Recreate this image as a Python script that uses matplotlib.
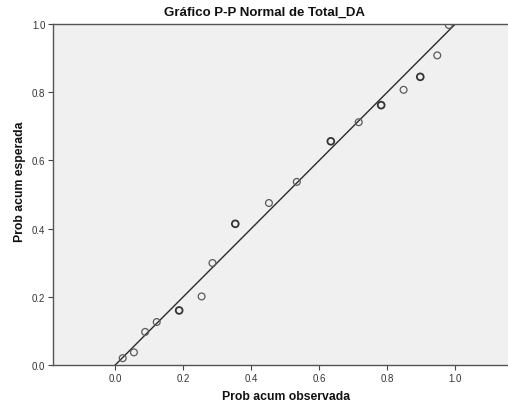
import matplotlib
matplotlib.use("Agg")
import matplotlib.pyplot as plt

plt.rcParams['font.family'] = ['Liberation Sans', 'DejaVu Sans']

# Observed vs expected cumulative probabilities for Total_DA
prob_observada = [0.022, 0.055, 0.088, 0.122, 0.188, 0.254, 0.286, 0.353,
                  0.452, 0.534, 0.634, 0.716, 0.782, 0.848, 0.897, 0.947, 0.981]
prob_esperada = [0.020, 0.037, 0.097, 0.126, 0.160, 0.201, 0.299, 0.414,
                 0.475, 0.537, 0.656, 0.712, 0.762, 0.807, 0.845, 0.908, 0.997]
# points that represent tied cases are drawn with a heavier edge
empates = [False, False, False, False, True, False, False, True,
           False, False, True, False, True, False, True, False, False]

ref_line = [0.0, 1.0]
x_ticks = [0.0, 0.2, 0.4, 0.6, 0.8, 1.0]
y_ticks = [0.0, 0.2, 0.4, 0.6, 0.8, 1.0]

W, H = 508, 406
fig = plt.figure(figsize=(W / 100, H / 100), dpi=100)
fig.patch.set_facecolor('white')
ax = fig.add_axes([53 / W, (H - 366) / H, (W - 53) / W, (366 - 25) / H])
ax.set_facecolor('#f0f0f0')

ax.plot(ref_line, ref_line, color='#2b2b2b', lw=1.0, zorder=2)

for x, y, e in zip(prob_observada, prob_esperada, empates):
    ax.scatter([x], [y], s=24, facecolors='none',
               edgecolors='#333333' if e else '#5a5a5a',
               linewidths=1.3 if e else 0.9, zorder=3)

ax.set_xlim(-0.183, 1.155)
ax.set_ylim(0.0, 1.0)
ax.set_xticks(x_ticks)
ax.set_yticks(y_ticks)
ax.set_xticklabels([f"{v:.1f}" for v in x_ticks])
ax.set_yticklabels([f"{v:.1f}" for v in y_ticks])
ax.tick_params(axis='both', direction='out', length=3.5, width=0.8,
               color='#444444', labelsize=7, labelcolor='#333333', pad=2)

for side in ['left', 'bottom', 'top']:
    ax.spines[side].set_color('#555555')
    ax.spines[side].set_linewidth(1.0)
ax.spines['right'].set_visible(False)

fig.text(264 / W, 1 - 13 / H, 'Gráfico P-P Normal de Total_DA',
         ha='center', va='center', fontsize=9.5, fontweight='bold', color='#111111')
fig.text(286 / W, 1 - 397 / H, 'Prob acum observada',
         ha='center', va='center', fontsize=8.8, fontweight='bold', color='#111111')
fig.text(20 / W, 1 - 182 / H, 'Prob acum esperada', rotation=90,
         ha='center', va='center', fontsize=8.8, fontweight='bold', color='#111111')

fig.savefig('out.png', dpi=100)
